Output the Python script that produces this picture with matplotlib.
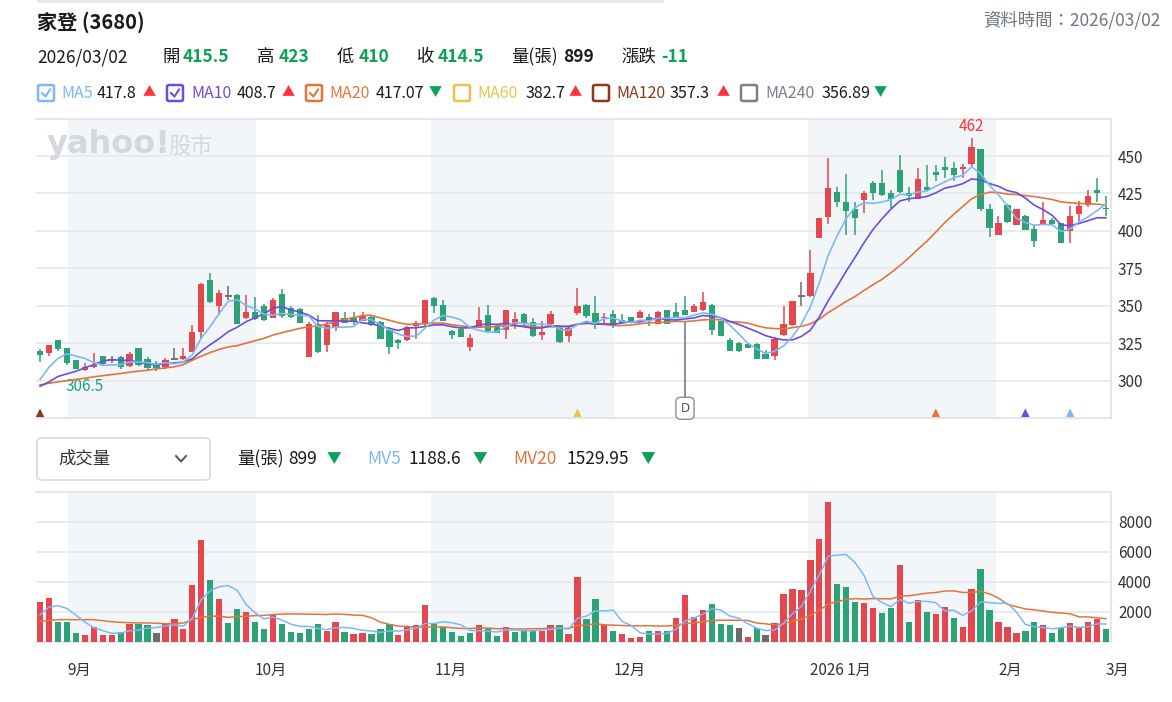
import numpy as np
import pandas as pd
import matplotlib
matplotlib.use("Agg")
import matplotlib.pyplot as plt
from matplotlib.patches import FancyBboxPatch
from matplotlib.lines import Line2D

plt.rcParams['font.family'] = ['Noto Sans CJK TC', 'DejaVu Sans']

# 家登 (3680) 日K  2025/08/27 ~ 2026/03/02
opens = [320, 318.5, 327, 321.5, 314, 307, 309, 316.5, 313.5, 315.5,
         309.5, 321.5, 314.5, 312, 309, 314.5, 314.5, 319, 332.5, 367,
         350, 356.5, 357, 341.5, 346, 350, 342, 357.5, 348.5, 348,
         316, 338, 324, 335.5, 342, 341.5, 339.5, 342.5, 339, 334,
         327, 327, 336.5, 338, 355, 350.5, 333, 334.5, 322.5, 335,
         344, 336.5, 333.5, 338, 344.5, 339, 330.5, 338, 335, 329.5,
         345, 350.5, 345, 341.5, 344.5, 340.5, 342.5, 342, 342.5, 338,
         347, 345.5, 347, 346, 347, 350.5, 339.5, 327, 325, 324.5,
         324.5, 317.5, 316.5, 330.5, 337, 356.5, 356.5, 395.5, 409.5, 426,
         419.5, 414.5, 420.5, 432, 432, 425.5, 440.5, 425, 421.5, 429.5,
         439, 442.5, 442, 441, 445, 454.5, 414.5, 397, 417.5, 404,
         410, 401, 404.5, 407.5, 405, 400, 411.5, 417.5, 427, 415.5]
highs = [321, 324, 327, 322, 314, 312, 318.5, 316.5, 316.5, 316.5,
         319, 322, 315.5, 313, 315, 321.5, 321.5, 337, 365.5, 372,
         360.5, 363.5, 357.5, 357, 356, 351, 355, 361, 349.5, 348.5,
         339, 343.5, 339, 346, 345.5, 345.5, 345.5, 343, 339.5, 335.5,
         328, 336.5, 339.5, 354, 355.5, 354, 333.5, 335, 331, 349,
         350.5, 337.5, 347, 346, 345, 342, 339.5, 346.5, 336, 336,
         362, 351, 356.5, 345, 347, 344.5, 342.5, 347, 344.5, 346.5,
         347, 352, 356.5, 351, 359.5, 351, 340, 328.5, 326, 324.5,
         325, 320.5, 329, 349.5, 353, 366, 387, 408.5, 449, 429,
         438, 419.5, 426.5, 433.5, 440.5, 427, 450.5, 429, 442, 444,
         444, 449.5, 446, 445, 462, 454.5, 418, 410, 418, 414.5,
         410.5, 404, 419, 408.5, 405.5, 416.5, 420, 427.5, 435, 423]
lows = [312.5, 316.5, 320, 310.5, 307.5, 306.5, 308.5, 310, 312, 307.5,
        309, 310, 306.5, 306.5, 308, 314.5, 314, 319, 328.5, 352,
        344, 354, 337.5, 341, 340.5, 340, 342, 342, 341.5, 338.5,
        316, 318.5, 319, 333, 338.5, 337, 339.5, 336.5, 327.5, 317.5,
        321, 326.5, 327.5, 336.5, 345, 339.5, 328, 329, 320, 335,
        332, 331.5, 328, 334.5, 336.5, 329, 327, 335.5, 325, 325.5,
        343.5, 342, 334.5, 338, 335, 337.5, 339, 341.5, 336.5, 337.5,
        338, 342, 344, 345.5, 346.5, 330.5, 330, 320, 319, 321.5,
        314.5, 314.5, 313.5, 330, 336.5, 350, 356, 395.5, 404.5, 416,
        397, 397, 412, 420.5, 423, 415, 425.5, 419, 421.5, 427.5,
        433.5, 435, 433.5, 435.5, 443.5, 413.5, 396, 397, 405, 404,
        400.5, 389, 404.5, 404, 392, 392, 406.5, 416, 419.5, 410]
closes = [317, 324, 321, 312, 308, 309, 310.5, 311, 313.5, 309,
          318, 310.5, 308.5, 308.5, 314, 314.5, 316.5, 332.5, 364.5, 352.5,
          358.5, 356.5, 338, 345.5, 341, 340.5, 354, 343, 342.5, 338.5,
          338, 319, 337, 346, 338.5, 339.5, 343, 337, 327.5, 322.5,
          325, 335.5, 338.5, 354, 349.5, 339.5, 330.5, 329, 328.5, 340.5,
          333, 332, 347, 341, 338.5, 329.5, 332.5, 344.5, 326, 335,
          349.5, 343, 337.5, 342.5, 336.5, 338.5, 339, 345.5, 340, 345.5,
          338, 342, 344, 349.5, 352.5, 333.5, 330, 320, 320, 321.5,
          314.5, 314.5, 327.5, 337.5, 353, 356.5, 372, 408.5, 428.5, 419,
          413.5, 408.5, 425, 425.5, 424, 421.5, 426, 423.5, 434.5, 427.5,
          437.5, 440.5, 437.5, 442.5, 456, 414.5, 402, 405, 406, 414.5,
          400.5, 393, 407.5, 404.5, 392, 410, 416.5, 423.5, 425.5, 414.5]
volumes = [2690, 2950, 1350, 1350, 600, 440, 980, 440, 440, 670,
           1220, 1220, 1110, 600, 1200, 1530, 870, 3770, 6770, 4130,
           2890, 1270, 2200, 2020, 1350, 870, 1870, 1200, 670, 600,
           870, 1200, 760, 1350, 670, 530, 600, 530, 870, 1200,
           440, 980, 1110, 2440, 1200, 1000, 670, 380, 600, 1110,
           870, 380, 1020, 670, 820, 820, 760, 1110, 1110, 530,
           4350, 1530, 2860, 1110, 760, 530, 270, 360, 760, 760,
           760, 1620, 3110, 1690, 2110, 2530, 1200, 1110, 960, 360,
           960, 440, 1270, 3200, 3530, 3460, 5440, 6860, 9350, 3840,
           3690, 2690, 2600, 2260, 1930, 2290, 5110, 1350, 2780, 2020,
           1870, 2350, 1600, 1020, 3530, 4860, 2130, 1350, 1020, 600,
           760, 1350, 1110, 600, 930, 1270, 960, 1350, 1530, 899]
close_before = 315.5  # close of the day before the window

# moving averages whose window reaches before the first bar
ma5_head = [300.7, 308.9, 314.7, 317.9]
ma10_head = [296.2, 299.1, 302.7, 304.5, 306.2, 308.5, 310.7, 312.9, 314.1]
ma20_head = [297.1, 298.2, 299.1, 300.0, 300.7, 301.6, 302.5, 303.3, 304.0, 304.7,
             305.6, 306.3, 306.9, 307.8, 308.5, 309.2, 310.7, 313.6, 316.3]
mv5_head = [1820, 2330, 2420, 2240]
mv20_head = [1380, 1440, 1490, 1490, 1490, 1490, 1490, 1420, 1350, 1310,
             1290, 1270, 1270, 1250, 1220, 1220, 1265, 1490, 1650]

month_names = ['9月', '10月', '11月', '12月', '2026 1月', '2月', '3月']
month_start = [3, 24, 44, 64, 86, 107, 119]

ma_names = ['MA5', 'MA10', 'MA20', 'MA60', 'MA120', 'MA240']
ma_values = ['417.8', '408.7', '417.07', '382.7', '357.3', '356.89']
ma_up = [True, True, False, True, True, False]
ma_checked = [True, True, True, False, False, False]
vol_labels = ['量(張)', 'MV5', 'MV20']
vol_values = ['899', '1188.6', '1529.95']

signal_idx = [0, 60, 100, 110, 115]
signal_ma = ['MA120', 'MA60', 'MA20', 'MA10', 'MA5']
dividend_idx = 72

RED = '#e5474f'
GREEN = '#2ea277'
GRAY = '#6b6b6b'
TXT_RED = '#ff333a'
TXT_GREEN = '#0ea05a'
ma_colors = {'MA5': '#7db8f3', 'MA10': '#6d4ce0', 'MA20': '#e1753b',
             'MA60': '#efc04c', 'MA120': '#8b3a1e', 'MA240': '#7a8089'}
BAND = '#f3f6f9'
GRID = '#e3e6ea'

W, H = 1172, 702
fig = plt.figure(figsize=(W / 100, H / 100), dpi=100)


def fx(px):
    return px / W


def fy(py):
    return 1 - py / H


def ftext(px, py, s, **kw):
    kw.setdefault('va', 'center')
    fig.text(fx(px), fy(py), s, **kw)


def moving(vals, n, head):
    s = pd.Series(vals, dtype=float).rolling(n).mean()
    s.iloc[:n - 1] = head
    return s.values


n = len(closes)
x = np.arange(n)
o, hi, lo, c = (np.array(a, dtype=float) for a in (opens, highs, lows, closes))
v = np.array(volumes, dtype=float)

ma5 = moving(closes, 5, ma5_head)
ma10 = moving(closes, 10, ma10_head)
ma20 = moving(closes, 20, ma20_head)
mv5 = moving(volumes, 5, mv5_head)
mv20 = moving(volumes, 20, mv20_head)

ax = fig.add_axes([fx(36), fy(418), fx(1111) - fx(36), fy(118.6) - fy(418)])
axv = fig.add_axes([fx(36), fy(642), fx(1111) - fx(36), fy(492) - fy(642)])

band_edges = [(3.1, 24.1), (43.6, 64.1), (85.7, 106.7)]
for a in (ax, axv):
    a.set_xlim(-0.45, 119.56)
    for b0, b1 in band_edges:
        a.axvspan(b0, b1, color=BAND, lw=0, zorder=0)
    a.spines['left'].set_visible(False)
    for s in ('top', 'right', 'bottom'):
        a.spines[s].set_color('#dfe2e6')
        a.spines[s].set_linewidth(1.2)
    a.yaxis.tick_right()
    a.tick_params(axis='y', length=0, pad=5, labelsize=11, labelcolor='#333333')
    a.set_xticks([])
    a.grid(axis='y', color=GRID, lw=1.1, zorder=1)
    a.set_axisbelow(True)

# candles
up = c > o
dn = c < o
ccol = np.where(up, RED, np.where(dn, GREEN, GRAY))
ax.vlines(x, lo, hi, colors=ccol, lw=1.1, zorder=3)
ax.bar(x, np.abs(c - o), bottom=np.minimum(o, c), width=0.7, color=ccol, zorder=4)
flat = ~(up | dn)
ax.hlines(c[flat], x[flat] - 0.4, x[flat] + 0.4, colors=GRAY, lw=1.3, zorder=4)

ax.plot(x, ma20, color=ma_colors['MA20'], lw=1.2, zorder=5)
ax.plot(x, ma10, color=ma_colors['MA10'], lw=1.2, zorder=6)
ax.plot(x, ma5, color=ma_colors['MA5'], lw=1.2, zorder=7)

ax.set_ylim(275, 475)
ax.set_yticks(range(300, 451, 25))

imax = int(np.argmax(hi))
imin = int(np.argmin(lo))
ax.annotate(f'{hi[imax]:g}', (imax, hi[imax]), xytext=(0, 2), textcoords='offset points',
            ha='center', va='bottom', color=TXT_RED, fontsize=11)
ax.annotate(f'{lo[imin]:g}', (imin, lo[imin]), xytext=(0, -5), textcoords='offset points',
            ha='center', va='top', color='#1ba57a', fontsize=11)

ax.scatter(signal_idx, [278.5] * len(signal_idx), marker='^', s=38,
           c=[ma_colors[m] for m in signal_ma], zorder=6, linewidths=0)

ax.vlines(dividend_idx, 287, lo[dividend_idx] - 4, colors='#8a8f96', lw=1.4, zorder=6)
ax.text(dividend_idx, 281.5, 'D', ha='center', va='center', fontsize=8.5, color='#555555',
        family='DejaVu Sans', zorder=7,
        bbox=dict(boxstyle='round,pad=0.38', fc='white', ec='#8a8f96', lw=1))

# watermark
ftext(47, 145, 'yahoo!', fontsize=23, fontweight='bold', color='#d4d8dd', family='DejaVu Sans')
ftext(168, 146, '股市', fontsize=16, color='#d4d8dd')

# volume
prev = np.r_[close_before, c[:-1]]
vcol = np.where(c > prev, RED, np.where(c < prev, GREEN, GRAY))
axv.bar(x, v, width=0.7, color=vcol, zorder=3)
axv.plot(x, mv20, color=ma_colors['MA20'], lw=1.1, zorder=4)
axv.plot(x, mv5, color=ma_colors['MA5'], lw=1.1, zorder=5)
axv.set_ylim(0, 10000)
axv.set_yticks([2000, 4000, 6000, 8000])
axv.set_yticks([10000], minor=True)
axv.grid(axis='y', which='minor', color=GRID, lw=1.1)
axv.tick_params(axis='y', which='minor', length=0)
for name, i in zip(month_names, month_start):
    axv.text(i, -0.19, name, transform=axv.get_xaxis_transform(), ha='left', va='center',
             fontsize=11, color='#333333')

# header
fig.add_artist(Line2D([fx(38), fx(662)], [fy(1), fy(1)], color='#e4e6e9', lw=2))
ftext(37, 22, '家登 (3680)', fontsize=14.5, fontweight='bold', color='#1a1a1a')
ftext(1161, 20, '資料時間：2026/03/02', ha='right', fontsize=12.5, color='#6e7680')

ftext(37, 57, '2026/03/02', fontsize=12.5, color='#1a1a1a')
chg = c[-1] - c[-2]
row = [('開', f'{o[-1]:g}', 162, 183), ('高', f'{hi[-1]:g}', 257, 279),
       ('低', f'{lo[-1]:g}', 337, 359), ('收', f'{c[-1]:g}', 417, 438)]
for lab, val, xl, xv in row:
    ftext(xl, 57, lab, fontsize=12.5, color='#1a1a1a')
    ftext(xv, 57, val, fontsize=12.5, fontweight='bold', color=TXT_GREEN)
ftext(511, 57, '量(張)', fontsize=12.5, color='#1a1a1a')
ftext(563, 57, f'{v[-1]:g}', fontsize=12.5, fontweight='bold', color='#1a1a1a')
ftext(621, 57, '漲跌', fontsize=12.5, color='#1a1a1a')
ftext(661, 57, f'{chg:g}', fontsize=12.5, fontweight='bold', color=TXT_GREEN)

# MA legend
box_x = [38, 167, 306, 454, 593, 741]
lab_x = [61, 191, 329, 477, 616, 765]
val_x = [97, 237, 376, 525, 670, 821]
tri_x = [143, 282, 429, 569, 717, 874]
for k, name in enumerate(ma_names):
    col = ma_colors[name]
    bx, by = box_x[k], 85
    fig.add_artist(FancyBboxPatch((fx(bx), fy(by + 16)), fx(16), 16 / H,
                                  boxstyle='round,pad=0,rounding_size=0.002',
                                  fc='white', ec=col, lw=1.8))
    if ma_checked[k]:
        fig.add_artist(Line2D([fx(bx + 4), fx(bx + 7.5), fx(bx + 12)],
                              [fy(by + 8), fy(by + 11.5), fy(by + 4.5)], color=col, lw=1.5))
    ftext(lab_x[k], 93, name, fontsize=11.5, color=col)
    ftext(val_x[k], 93, ma_values[k], fontsize=11.5, color='#1a1a1a')
    ftext(tri_x[k], 93, '▲' if ma_up[k] else '▼', fontsize=9.5,
          color=TXT_RED if ma_up[k] else TXT_GREEN)

# volume header
fig.add_artist(FancyBboxPatch((fx(37), fy(480)), fx(173), 42 / H,
                              boxstyle='round,pad=0,rounding_size=0.005',
                              fc='white', ec='#d9dde2', lw=1.3))
ftext(58, 459, '成交量', fontsize=12.5, color='#333333')
fig.add_artist(Line2D([fx(176), fx(181), fx(186)], [fy(456), fy(461.5), fy(456)],
                      color='#555555', lw=1.4))
ftext(237, 459, vol_labels[0], fontsize=12.5, color='#1a1a1a')
ftext(288, 459, vol_values[0], fontsize=12.5, color='#1a1a1a')
ftext(327, 459, '▼', fontsize=10.5, color=TXT_GREEN)
ftext(367, 459, vol_labels[1], fontsize=12.5, color=ma_colors['MA5'])
ftext(408, 459, vol_values[1], fontsize=12.5, color='#1a1a1a')
ftext(473, 459, '▼', fontsize=10.5, color=TXT_GREEN)
ftext(513, 459, vol_labels[2], fontsize=12.5, color=ma_colors['MA20'])
ftext(566, 459, vol_values[2], fontsize=12.5, color='#1a1a1a')
ftext(641, 459, '▼', fontsize=10.5, color=TXT_GREEN)

fig.savefig('out.png', dpi=100, facecolor='white')
